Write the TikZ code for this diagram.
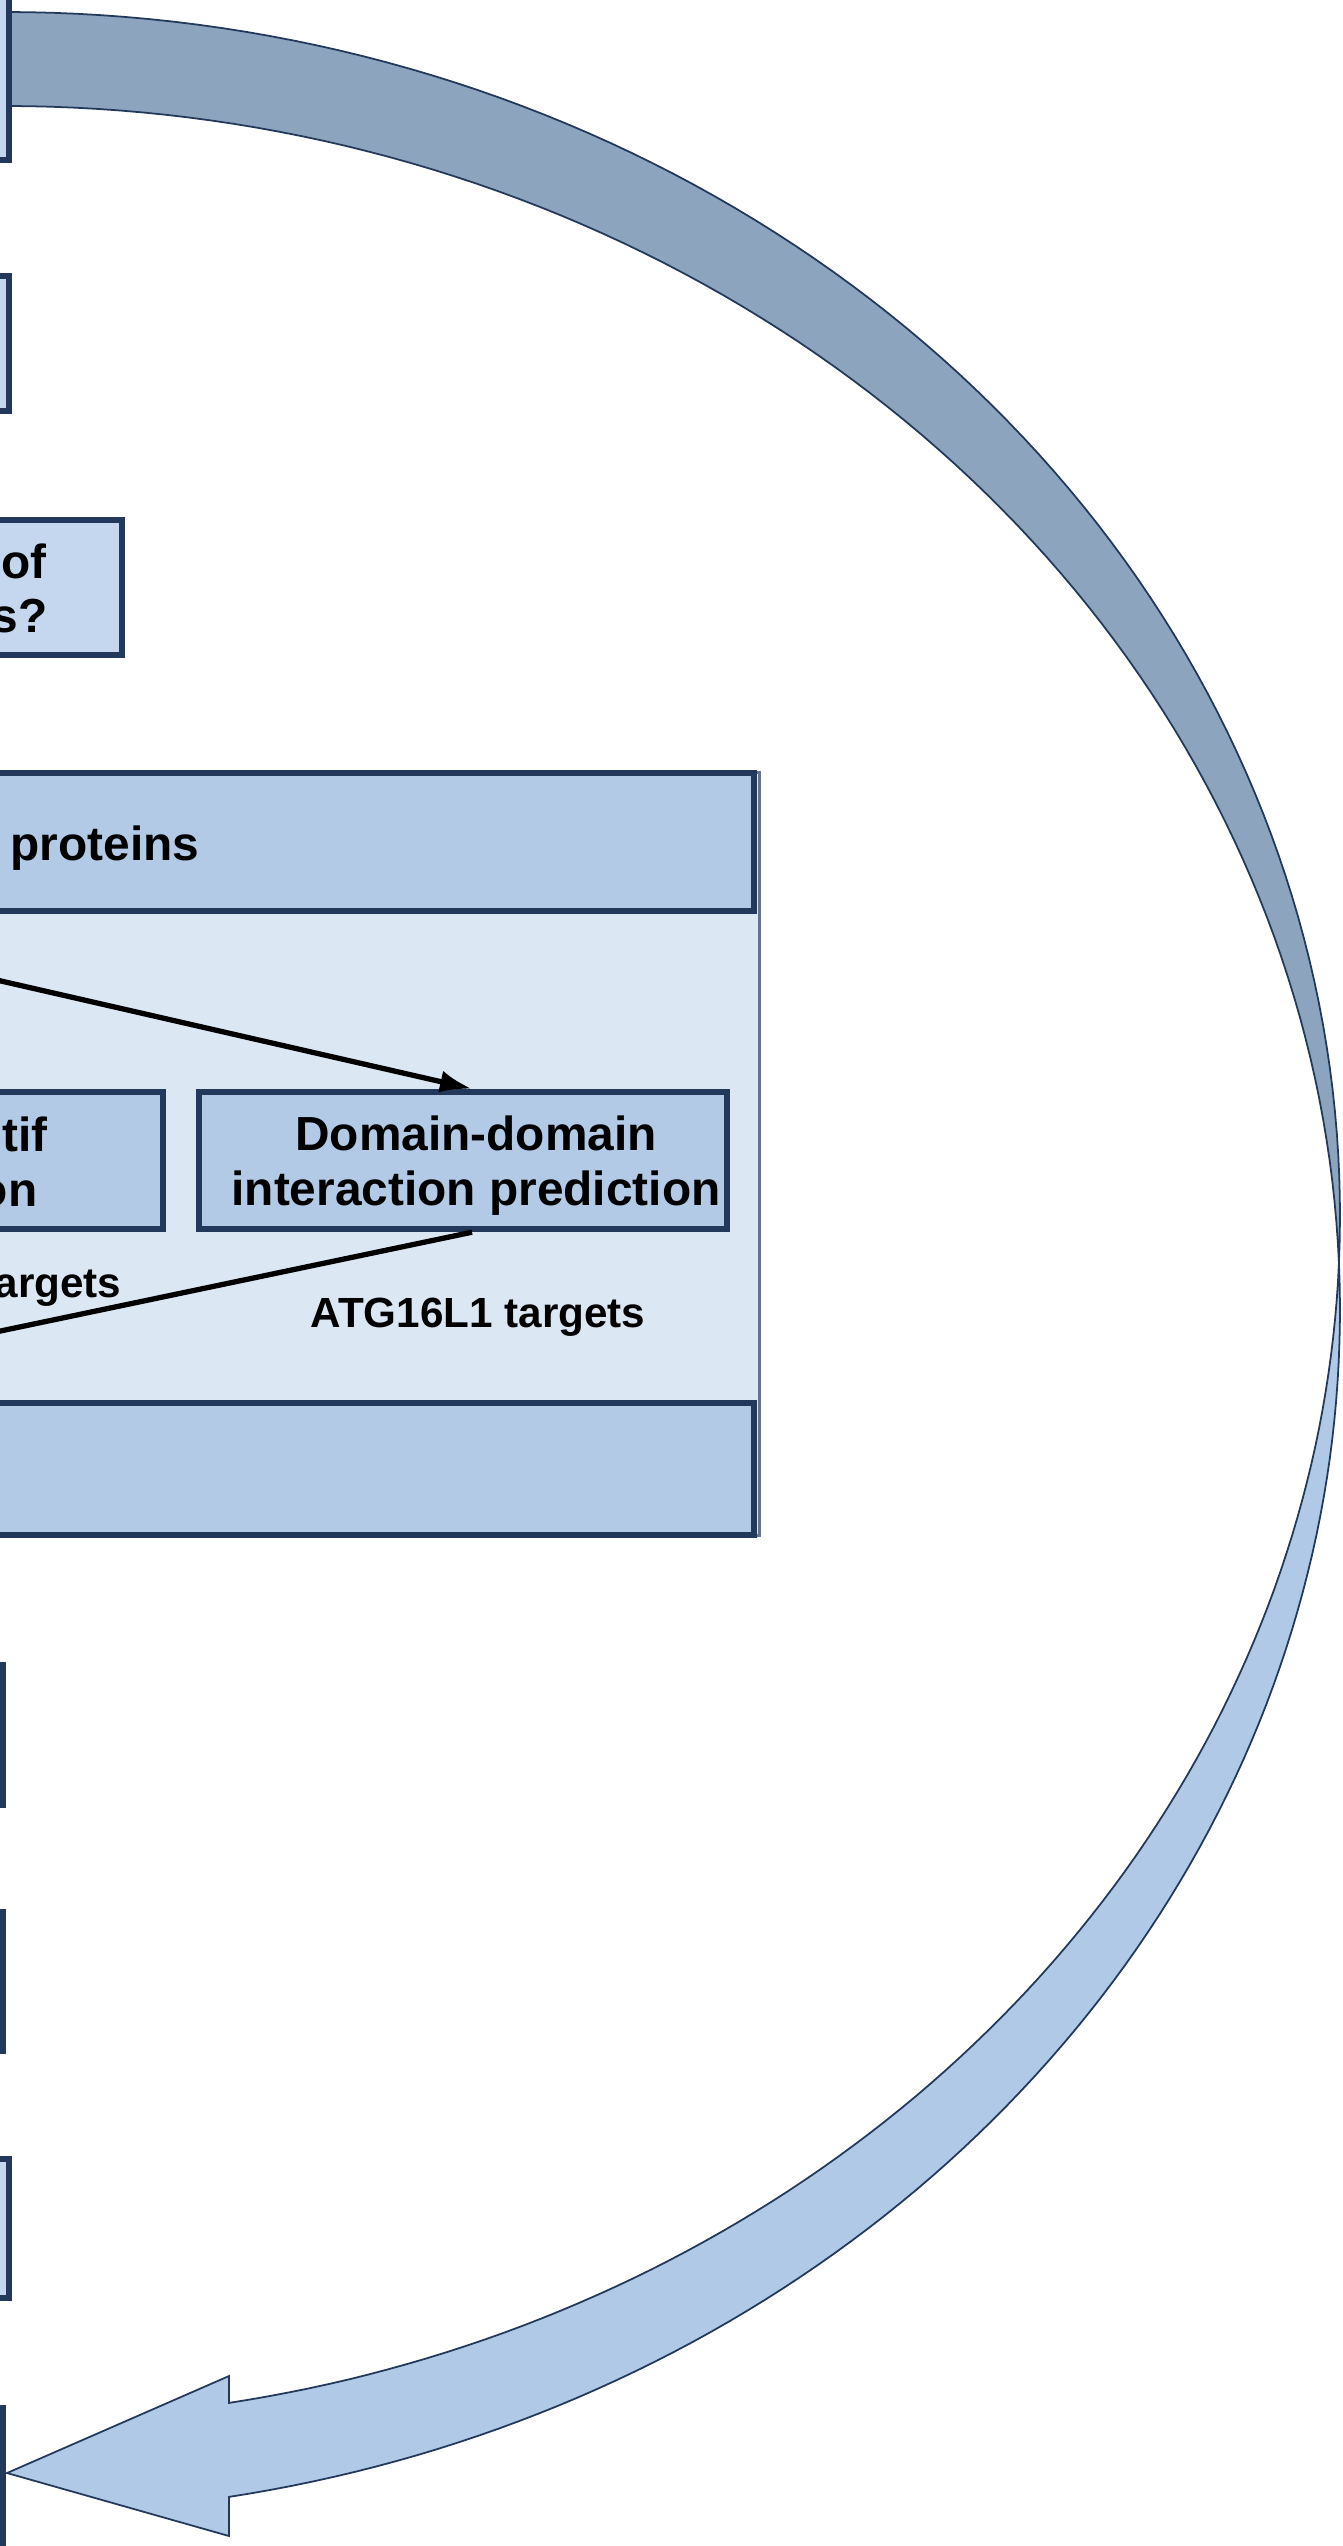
\documentclass[tikz,border=0pt]{standalone}
\usepackage{fontspec}
\setmainfont{Liberation Sans}
\usetikzlibrary{arrows.meta}
\definecolor{navy}{HTML}{23395B}
\definecolor{paleblue}{HTML}{C5D7EE}
\definecolor{midblue}{HTML}{B2CAE6}
\definecolor{innerblue}{HTML}{DCE7F4}
\definecolor{bandgrey}{HTML}{8DA4BE}
\definecolor{bandblue}{HTML}{AFC9E7}
\begin{document}
\begin{tikzpicture}[
  x=0.01cm, y=-0.01cm,
  plainbox/.style = {shape=rectangle, draw=navy, line width=1.8pt,
    fill=paleblue, inner sep=0pt},
  headbox/.style = {plainbox, fill=midblue},
  txt/.style = {font=\bfseries\fontsize{13.6}{15.6}\selectfont, inner sep=0pt},
  subtxt/.style = {font=\bfseries\fontsize{12}{14}\selectfont, inner sep=0pt},
  band/.style = {draw=navy, line width=0.5pt},
  link/.style = {line width=1.5pt}
  ]
  \useasboundingbox (0,0) rectangle (1343,2546);
  \clip (0,0) rectangle (1343,2546);
  \fill[white] (0,0) rectangle (1343,2546);

  \draw[band, fill=bandgrey]
    plot[domain=-90:2.24, samples=90] ({5+1335*cos(\x)}, {1216+1204*sin(\x)})
    -- plot[domain=-2.24:-90, samples=90] ({5+1335*cos(\x)}, {1310+1204*sin(\x)})
    -- cycle;
  \draw[band, fill=bandblue]
    plot[domain=-2.24:80.34, samples=90] ({5+1335*cos(\x)}, {1310+1204*sin(\x)})
    -- (229,2536) -- (7,2473) -- (229,2376)
    -- plot[domain=80.34:2.24, samples=90] ({5+1335*cos(\x)}, {1216+1204*sin(\x)})
    -- cycle;

  \node[plainbox, minimum width=1.09cm, minimum height=2.6cm] (q1) at (-45.5,30) {};
  \node[plainbox, minimum width=1.09cm, minimum height=1.35cm] (q2) at (-45.5,343.5) {};
  \node[plainbox, minimum width=4.22cm, minimum height=1.35cm] (q3) at (-89,587.5) {};
  \node[txt, anchor=base east] (q3a) at (47,578) {of};
  \node[txt, anchor=base east] (q3b) at (48,633) {s?};

  \node[plainbox, draw=navy!70, line width=0.8pt, fill=innerblue,
    minimum width=10.59cm, minimum height=7.62cm] (frame) at (229.5,1154) {};
  \node[headbox, minimum width=10.54cm, minimum height=1.38cm] (head) at (227,842) {};
  \node[txt, anchor=base west] (headtxt) at (10,860) {proteins};
  \node[headbox, minimum width=10.54cm, minimum height=1.32cm] (foot) at (227,1469) {};

  \node[headbox, minimum width=4.63cm, minimum height=1.37cm] (motif) at (-68.5,1160.5) {};
  \node[txt, anchor=base east] (motifa) at (48,1151) {otif};
  \node[txt, anchor=base east] (motifb) at (38,1206) {on};
  \node[headbox, minimum width=5.28cm, minimum height=1.37cm] (ddi) at (463,1160.5) {};
  \node[txt, align=center] (dditxt) at (476,1166) {Domain-domain\\interaction prediction};
  \node[subtxt, anchor=base east] (motiftgt) at (122,1297) {argets};
  \node[subtxt, anchor=base] (dditgt) at (478,1327) {ATG16L1 targets};

  \coordinate (fromleft) at (-200,935);
  \coordinate (toleft) at (-200,1373);
  \draw[link, -{Latex[length=0.32cm, width=0.22cm]}] (fromleft) -- ([xshift=0.09cm]ddi.north);
  \draw[link] ([xshift=0.09cm]ddi.south) -- (toleft);

  \node[plainbox, minimum width=1.03cm, minimum height=1.40cm] (q5) at (-48.5,1735) {};
  \node[plainbox, minimum width=1.03cm, minimum height=1.39cm] (q6) at (-48.5,1981.5) {};
  \node[plainbox, minimum width=1.09cm, minimum height=1.39cm] (q7) at (-45.5,2228.5) {};
  \node[plainbox, minimum width=1.03cm, minimum height=2.92cm] (q8) at (-48.5,2554) {};
\end{tikzpicture}
\end{document}
